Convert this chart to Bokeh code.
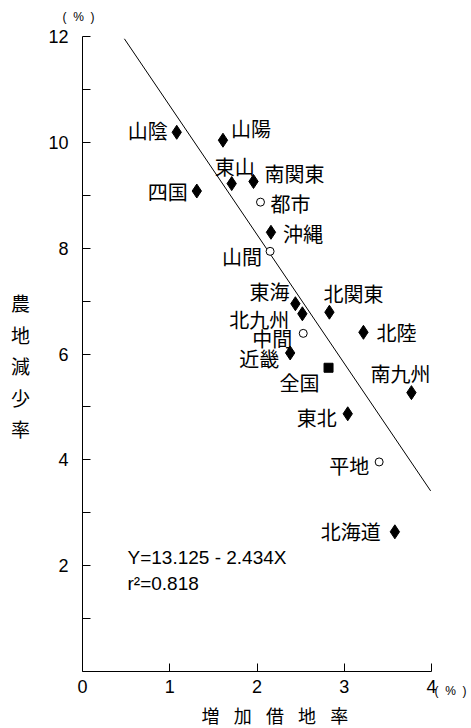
from bokeh.plotting import figure
from bokeh.models import (ColumnDataSource, Range1d, FixedTicker, Label, LinearAxis,
                          CDSView, GroupFilter)
from bokeh.core.properties import value
from bokeh.embed import file_html
from bokeh.resources import INLINE

# --- data -------------------------------------------------------------
names = ["山陰", "山陽", "四国", "東山", "南関東", "都市", "沖縄", "山間",
         "東海", "北九州", "北関東", "北陸", "中間", "近畿", "全国",
         "南九州", "東北", "平地", "北海道"]
lease_rate = [1.08, 1.61, 1.31, 1.71, 1.96, 2.04, 2.16, 2.15,
              2.44, 2.52, 2.83, 3.22, 2.53, 2.38, 2.82,
              3.77, 3.04, 3.40, 3.58]          # 増加借地率 (%)
loss_rate = [10.19, 10.04, 9.08, 9.22, 9.26, 8.87, 8.30, 7.94,
             6.95, 6.76, 6.79, 6.41, 6.39, 6.02, 5.74,
             5.27, 4.87, 3.96, 2.64]           # 農地減少率 (%)
kind = ["region", "region", "region", "region", "region", "zone", "region", "zone",
        "region", "region", "region", "region", "zone", "region", "nation",
        "region", "region", "zone", "region"]

intercept = 13.125
slope = -2.434
r_squared = 0.818
fit_x = [0.48, 3.99]

x_ticks = [0, 1, 2, 3, 4]
y_ticks = list(range(1, 13))
y_tick_labels = {t: (str(t) if t % 2 == 0 else "") for t in y_ticks}

# label placement: (align, x offset px, y offset px)
label_place = {
    "山陰": ("right", -9, -2), "山陽": ("left", 8, -12), "四国": ("right", -9, 0),
    "東山": ("left", -17, -17), "南関東": ("left", 11, -8), "都市": ("left", 10, 1),
    "沖縄": ("left", 12, 1), "山間": ("right", -8, 5), "東海": ("right", -6, -12),
    "北九州": ("right", -13, 6), "北関東": ("left", -6, -19), "北陸": ("left", 13, 0),
    "中間": ("right", -11, 5), "近畿": ("right", -11, 6), "全国": ("right", -9, 15),
    "南九州": ("right", 19, -19), "東北": ("right", -11, 4), "平地": ("right", -10, 4),
    "北海道": ("right", -14, 0),
}

JP = "Noto Sans CJK JP"
LAT = "Liberation Sans"
NB = "\u00a0\u00a0"
UNIT = f"({NB}%{NB})"

# canvas geometry: the plotting frame fills the whole canvas and the axes
# are pinned at x=0 / y=0 inside it
W, H = 471, 728
X0_PX, X4_PX = 82, 431      # screen x of data x=0 and x=4
Y0_PX, Y12_PX = 671, 36     # screen y of data y=0 and y=12
ppx = (X4_PX - X0_PX) / 4
ppy = (Y0_PX - Y12_PX) / 12


def sx(px):
    return (px - X0_PX) / ppx


def sy(py):
    return (Y0_PX - py) / ppy


p = figure(width=W, height=H, output_backend="svg", toolbar_location=None,
           x_range=Range1d(sx(0), sx(W)), y_range=Range1d(sy(H), sy(0)),
           x_axis_location=None, y_axis_location=None,
           min_border=0, min_border_left=0, min_border_right=0,
           min_border_top=0, min_border_bottom=0)
p.outline_line_color = None
p.grid.visible = False
p.background_fill_color = "white"
p.border_fill_color = "white"

xaxis = LinearAxis(fixed_location=0, bounds=(0, 4), ticker=FixedTicker(ticks=x_ticks))
yaxis = LinearAxis(fixed_location=0, bounds=(0, 12), ticker=FixedTicker(ticks=y_ticks),
                   major_label_overrides=y_tick_labels)
for ax in (xaxis, yaxis):
    ax.axis_line_color = "black"
    ax.axis_line_width = 1
    ax.major_tick_in = 8
    ax.major_tick_out = 0
    ax.major_tick_line_color = "black"
    ax.minor_tick_line_color = None
    ax.major_label_text_font = LAT
    ax.major_label_text_font_size = "18px"
    ax.major_label_text_color = "black"
xaxis.major_label_standoff = 8
yaxis.major_label_standoff = 14
p.add_layout(xaxis, "below")
p.add_layout(yaxis, "left")

# regression line
p.line(fit_x, [intercept + slope * v for v in fit_x], line_color="black", line_width=1)

src = ColumnDataSource(dict(
    x=lease_rate, y=loss_rate, name=names, kind=kind,
    align=[label_place[n][0] for n in names],
    dx=[label_place[n][1] for n in names],
    dy=[label_place[n][2] for n in names],
))

reg = CDSView(filter=GroupFilter(column_name="kind", group="region"))
zon = CDSView(filter=GroupFilter(column_name="kind", group="zone"))
nat = CDSView(filter=GroupFilter(column_name="kind", group="nation"))

p.scatter("x", "y", source=src, view=reg, marker="diamond", size=14,
          fill_color="black", line_color="black")
p.scatter("x", "y", source=src, view=zon, marker="circle", size=8,
          fill_color="white", line_color="black", line_width=1)
p.scatter("x", "y", source=src, view=nat, marker="square", size=9,
          fill_color="black", line_color="black")

p.text("x", "y", text="name", source=src, text_align="align",
       x_offset="dx", y_offset="dy", text_baseline="middle",
       text_font=value(JP), text_font_size="20px", text_color="black")


def note(px, py, text, font, size, align="left"):
    p.add_layout(Label(x=sx(px), y=sy(py), text=text, text_font=font,
                       text_font_size=size, text_color="black",
                       text_align=align, text_baseline="middle"))


# regression equation
note(127, 557, f"Y={intercept} - {abs(slope)}X", LAT, "19px")
note(127, 583, f"r²={r_squared}", LAT, "19px")

# unit marks
note(78, 16, UNIT, LAT, "12px", "center")
note(434, 690, UNIT, LAT, "12px")

# axis titles, one character per label
for i, ch in enumerate("農地減少率"):
    note(20, 302 + 31.5 * i, ch, JP, "19px", "center")
for i, ch in enumerate("増加借地率"):
    note(210 + 32.2 * i, 714, ch, JP, "18px", "center")

open("out.html", "w").write(file_html(p, INLINE))
